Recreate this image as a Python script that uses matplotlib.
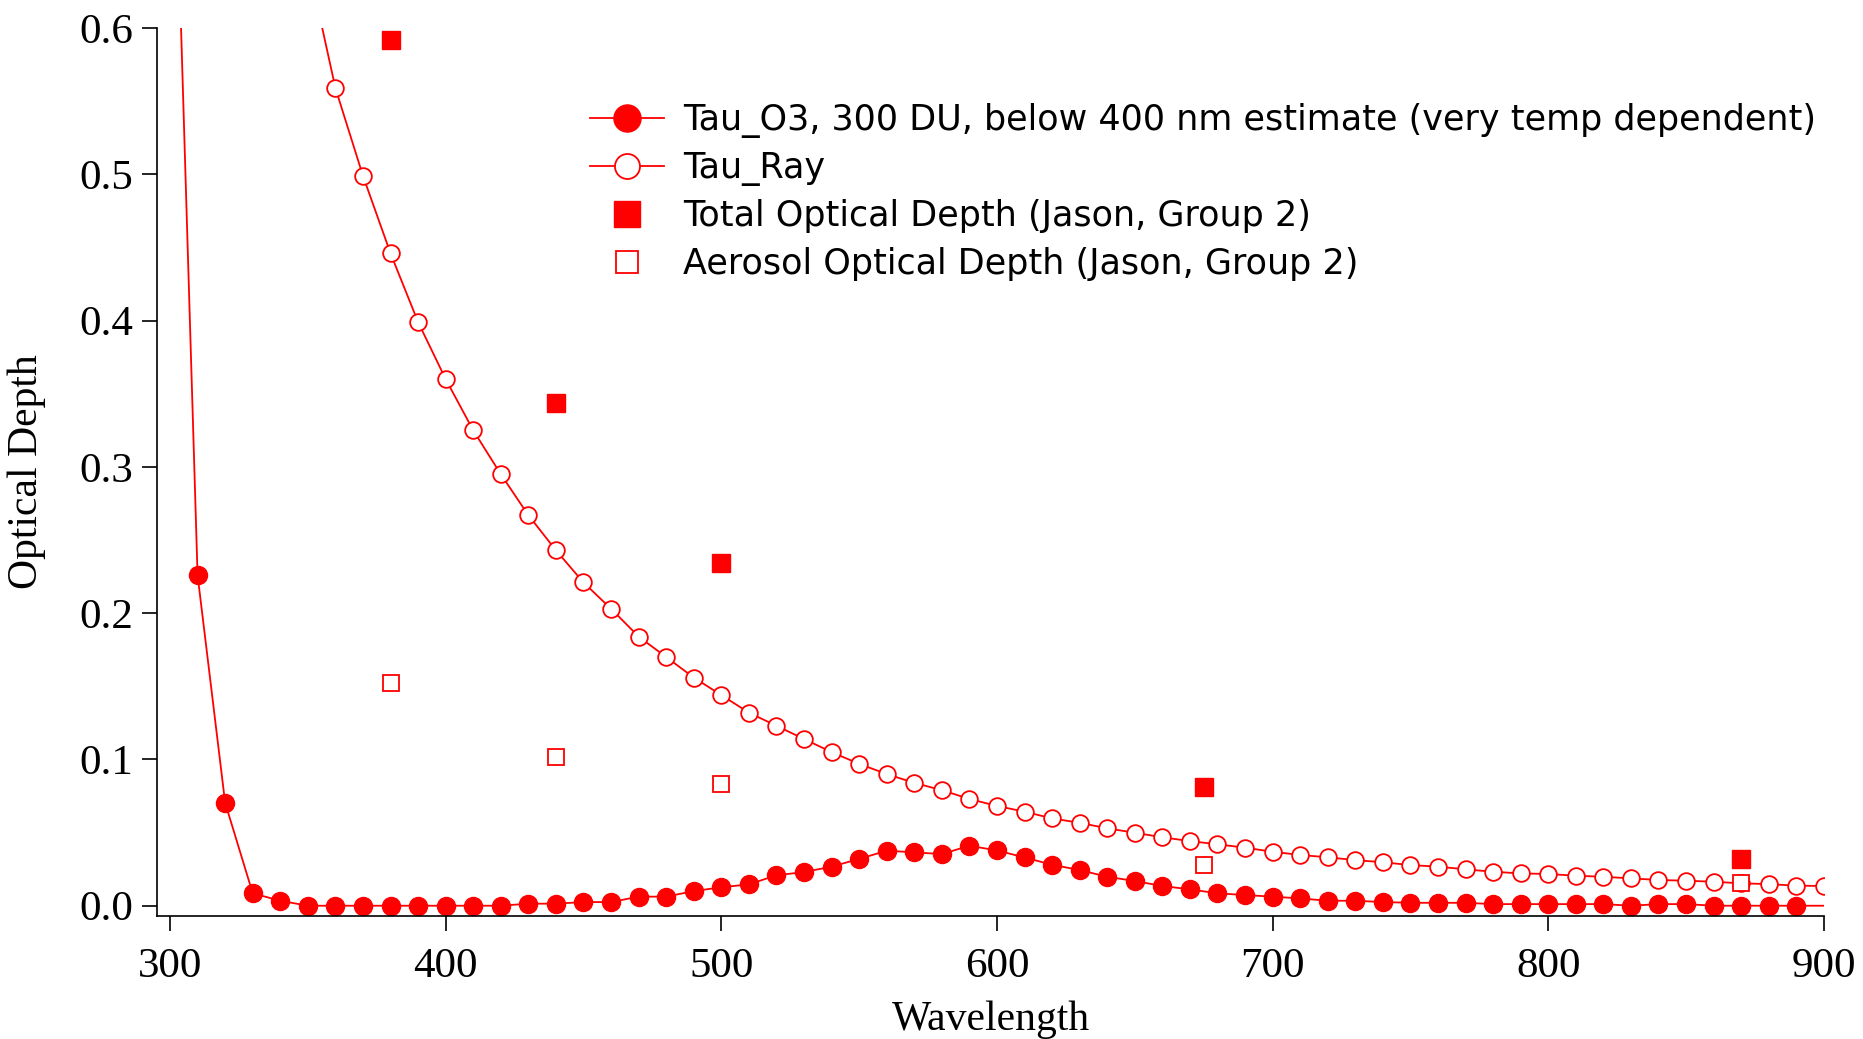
import matplotlib.pyplot as plt

# Ozone optical depth (300 DU), 10 nm steps
o3_wl = [300, 310, 320, 330, 340, 350, 360, 370, 380, 390, 400, 410, 420, 430, 440,
         450, 460, 470, 480, 490, 500, 510, 520, 530, 540, 550, 560, 570, 580, 590,
         600, 610, 620, 630, 640, 650, 660, 670, 680, 690, 700, 710, 720, 730, 740,
         750, 760, 770, 780, 790, 800, 810, 820, 830, 840, 850, 860, 870, 880, 890, 900]
o3_tau = [0.85, 0.226, 0.0704, 0.0085, 0.0034, 0.0, 0.0, 0.0, 0.0, 0.0, 0.0, 0.0, 0.0,
          0.0014, 0.0014, 0.0025, 0.0025, 0.0062, 0.0062, 0.0100, 0.0126, 0.0146,
          0.0208, 0.0230, 0.0267, 0.0320, 0.0376, 0.0365, 0.0353, 0.0410, 0.0378,
          0.0330, 0.0280, 0.0244, 0.0198, 0.0169, 0.0135, 0.0112, 0.0085, 0.0073,
          0.0062, 0.0050, 0.0034, 0.0034, 0.0025, 0.0020, 0.0020, 0.0020, 0.0011,
          0.0011, 0.0011, 0.0011, 0.0011, 0.0, 0.0011, 0.0011, 0.0, 0.0, 0.0, 0.0, 0.0]

# Rayleigh optical depth
ray_wl = list(range(350, 901, 10))
ray_tau = [0.645, 0.559, 0.499, 0.446, 0.399, 0.360, 0.325, 0.295, 0.267, 0.243,
           0.221, 0.203, 0.184, 0.170, 0.156, 0.144, 0.132, 0.123, 0.114, 0.105,
           0.097, 0.090, 0.084, 0.079, 0.073, 0.0682, 0.0643, 0.0597, 0.0567,
           0.0529, 0.0499, 0.0468, 0.0442, 0.0420, 0.0397, 0.0369, 0.0347, 0.0331,
           0.0312, 0.0297, 0.0278, 0.0267, 0.0249, 0.0232, 0.0221, 0.0217, 0.0205,
           0.0198, 0.0187, 0.0176, 0.0171, 0.0164, 0.0153, 0.0148, 0.0137, 0.0135]

# Jason, Group 2 measurements
meas_wl = [380, 440, 500, 675, 870]
total_od = [0.592, 0.344, 0.234, 0.0814, 0.0317]
aerosol_od = [0.152, 0.102, 0.083, 0.0278, 0.0157]

red = '#ff0000'
serif = 'Liberation Serif'

fig = plt.figure(figsize=(18.63, 10.39), dpi=100)
ax = fig.add_axes([0.0843, 0.1187, 0.979 - 0.0843, 0.973 - 0.1187])

ax.plot(o3_wl, o3_tau, color=red, lw=1.3, marker='o', ms=13, mfc=red, mec=red,
        markevery=slice(0, -1),
        label='Tau_O3, 300 DU, below 400 nm estimate (very temp dependent)')
ax.plot(ray_wl, ray_tau, color=red, lw=1.3, marker='o', ms=12, mfc='white',
        mec=red, mew=1.3, label='Tau_Ray')
ax.plot(meas_wl, total_od, ls='none', marker='s', ms=12.5, color=red,
        label='Total Optical Depth (Jason, Group 2)')
ax.plot(meas_wl, aerosol_od, ls='none', marker='s', ms=11, mfc='white', mec=red,
        mew=1.3, label='Aerosol Optical Depth (Jason, Group 2)')

ax.set_xlim(295.3, 900)
ax.set_ylim(-0.0068, 0.6)
ax.set_xticks([300, 400, 500, 600, 700, 800, 900])
ax.set_yticks([0.0, 0.1, 0.2, 0.3, 0.4, 0.5, 0.6])
ax.set_yticklabels(['0.0', '0.1', '0.2', '0.3', '0.4', '0.5', '0.6'])

for s in ['top', 'right']:
    ax.spines[s].set_visible(False)
for s in ['left', 'bottom']:
    ax.spines[s].set_linewidth(1.2)
ax.tick_params(direction='out', length=11, width=1.2, labelsize=31)
ax.tick_params(axis='x', pad=12)
ax.tick_params(axis='y', pad=6)
for lab in ax.get_xticklabels() + ax.get_yticklabels():
    lab.set_family(serif)

ax.set_xlabel('Wavelength', family=serif, fontsize=30, labelpad=10)
ax.set_ylabel('Optical Depth', family=serif, fontsize=30, labelpad=24)

ax.legend(loc='upper left', bbox_to_anchor=(0.3167, 0.901),
          bbox_transform=fig.transFigure, frameon=False, borderpad=0,
          borderaxespad=0, handlelength=2.1, handletextpad=0.55,
          labelspacing=0.38, markerscale=1.5,
          prop={'family': 'DejaVu Sans', 'size': 25.2})

fig.savefig('out.png', dpi=100)
